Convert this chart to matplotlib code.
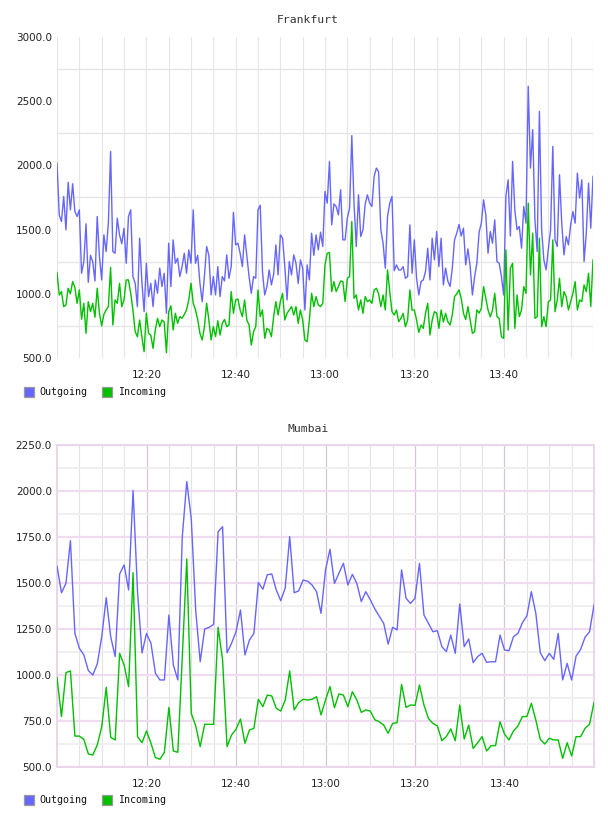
import matplotlib
matplotlib.use("Agg")
import matplotlib.pyplot as plt
import numpy as np
from matplotlib.patches import Rectangle
from matplotlib.ticker import MultipleLocator, FixedLocator

# minutes after 12:00
xtick_pos = [20, 40, 60, 80, 100]
xtick_labels = ["12:20", "12:40", "13:00", "13:20", "13:40"]
series_names = ["Outgoing", "Incoming"]

# Frankfurt, one sample every 30 s
fra_step = 0.5
fra_out = [
    2018, 1615, 1563, 1758, 1498, 1868, 1654, 1857, 1641, 1602,
    1654, 1160, 1250, 1545, 1090, 1300, 1250, 1100, 1602, 1290,
    1108, 1459, 1329, 1550, 2109, 1329, 1316, 1589, 1459, 1390,
    1511, 1238, 1602, 1654, 1134, 1082, 900, 1433, 1095, 861,
    1238, 978, 1082, 900, 1108, 1004, 1199, 1056, 1160, 848,
    1394, 1056, 1420, 1238, 1277, 1134, 1212, 1316, 1160, 1342,
    1238, 1654,
    1238, 1300, 1082, 939, 1134, 1368, 1300, 991, 1134, 991,
    1212, 978, 1134, 1100, 1303, 1120, 1212, 1634, 1381, 1394,
    1316, 1212, 1459, 1300, 1134, 1004, 1134, 1121, 1654, 1690,
    1173, 991, 1056, 1186, 1069, 1150, 1381, 1147, 1459, 1433,
    1212, 952, 1251, 1147, 1303, 1238, 1080, 1264, 1199, 874,
    1225, 1108, 1472, 1300, 1459, 1342, 1480, 1368, 1797, 1706,
    2031, 1537, 1700, 1680, 1615, 1810, 1420, 1420, 1589, 1667,
    2232, 1700, 1368, 1771, 1446, 1498, 1700, 1771, 1706, 1680,
    1914, 1979, 1950, 1500, 1394, 1199, 1602, 1706, 1758, 1180,
    1225, 1186, 1186, 1212, 1121, 1134, 1537, 1160, 1420, 1121,
    991, 1095, 1108, 1173, 1355, 1108, 1433, 1264, 1485, 1212,
    1433, 1069, 1200, 1100, 1056, 1200, 1420, 1472, 1540, 1450,
    1511, 1225, 1350, 1212, 991, 1134, 1238, 1480, 1550, 1732,
    1615, 1316, 1485, 1394, 1576, 1251, 1238, 1134, 991, 1758,
    1888, 1450, 2031, 1650, 1500, 1524, 1355, 1680, 1550, 2616,
    1979, 2278, 1576, 1329, 2421, 1498, 1264, 1186, 1350, 1498,
    2148, 1420, 1368, 1927, 1550, 1303, 1446, 1381, 1537, 1641,
    1550, 1940, 1745, 1888, 1251, 1472, 1862, 1511, 1914,
]
fra_in = [
    1166, 991, 1017, 900, 913, 1043, 1000, 1095, 1050, 926,
    1030, 802, 926, 692, 939, 861, 926, 817, 1043, 848,
    750, 840, 874, 900, 1205, 757, 952, 926, 1082, 900,
    952, 1108, 1108, 1004, 874, 705, 666, 796, 666, 549,
    850, 692, 679, 575, 718, 809, 744, 796, 780, 542,
    861, 906, 718, 848, 770, 822, 809, 840, 874, 952,
    1082, 926,
    874, 800, 692, 640, 740, 926, 796, 640, 744, 666,
    790, 679, 770, 800, 744, 757, 1017, 848, 952, 960,
    874, 822, 952, 796, 757, 601, 705, 744, 1030, 822,
    874, 653, 731, 718, 666, 822, 939, 835, 939, 1004,
    796, 848, 874, 900, 835, 900, 770, 874, 796, 640,
    627, 796, 1004, 900, 978, 913, 900, 926, 1225, 1316,
    1321, 1017, 1095, 1017, 1056, 1100, 1095, 939, 1121, 1134,
    1563, 965, 991, 874, 952, 848, 978, 939, 952, 926,
    1030, 1043, 1000, 900, 991, 874, 1186, 1017, 860, 835,
    874, 783, 809, 848, 744, 796, 1030, 874, 874, 796,
    700, 757, 731, 848, 926, 679, 796, 861, 850, 731,
    874, 780, 848, 783, 757, 835, 978, 1000, 1030, 965,
    848, 800, 900, 796, 692, 705, 874, 850, 887, 1056,
    965, 874, 820, 874, 1004, 822, 809, 666, 653, 1342,
    718, 1199, 1238, 731, 991, 822, 874, 1056, 1004, 1706,
    1147, 1472, 809, 822, 1433, 744, 822, 744, 939, 952,
    1420, 861, 952, 1121, 900, 1017, 978, 874, 939, 1004,
    1095, 874, 952, 939, 1069, 1017, 1160, 900, 1264,
]

# Mumbai, one sample per minute
mum_step = 1.0
mum_out = [
    1592, 1447, 1498, 1730, 1226, 1145, 1109, 1024, 1000, 1060,
    1208, 1420, 1208, 1100, 1549, 1598, 1462, 2002, 1450, 1120,
    1226, 1172, 1009, 973, 973, 1326, 1054, 973, 1752, 2051,
    1851, 1350, 1072, 1250, 1259, 1275, 1779, 1806, 1121, 1172,
    1235, 1353, 1109, 1190, 1226, 1502, 1466, 1545, 1549, 1462,
    1404, 1473, 1752, 1447, 1457, 1516, 1510, 1489, 1453, 1335,
    1571, 1683, 1498, 1553, 1607, 1489, 1547, 1498, 1399, 1453,
    1410, 1360, 1320, 1281, 1168, 1259, 1245, 1571, 1417, 1389,
    1417, 1607, 1326, 1281, 1235, 1241, 1154, 1127, 1217, 1118,
    1386, 1154, 1196, 1067, 1100, 1118, 1069, 1072, 1072, 1217,
    1136, 1132, 1208, 1226, 1284, 1321, 1453, 1335, 1121, 1078,
    1118, 1085, 1226, 973, 1063, 973, 1103, 1139, 1205, 1235,
    1380,
]
mum_in = [
    987, 774, 1013, 1022, 668, 668, 650, 571, 565, 620,
    719, 933, 661, 647, 1118, 1054, 937, 1556, 665, 632,
    696, 629, 551, 542, 580, 824, 587, 580, 1100, 1630,
    792, 723, 611, 732, 732, 732, 1259, 1082, 611, 674,
    705, 761, 629, 701, 710, 868, 828, 891, 886, 819,
    804, 864, 1022, 810, 850, 868, 864, 868, 882, 783,
    864, 937, 822, 897, 891, 828, 909, 864, 797, 810,
    804, 757, 746, 728, 683, 737, 741, 949, 824, 837,
    835, 946, 837, 764, 737, 723, 643, 665, 707, 643,
    837, 652, 728, 601, 632, 665, 587, 616, 616, 746,
    679, 647, 696, 723, 774, 774, 846, 755, 650, 625,
    656, 647, 647, 547, 632, 560, 665, 665, 710, 732,
    850,
]

OUT_COLOR = "#6666ff"
IN_COLOR = "#00c000"
W, H = 608, 816


def draw_lines(ax, step, out, inc):
    t_out = np.arange(len(out)) * step
    t_in = np.arange(len(inc)) * step
    ax.plot(t_out, out, color=OUT_COLOR, linewidth=1.0, zorder=3)
    ax.plot(t_in, inc, color=IN_COLOR, linewidth=1.0, zorder=4)
    ax.set_xlim(0, 120)
    ax.set_xticks(xtick_pos)
    ax.set_xticklabels(xtick_labels)
    ax.xaxis.set_minor_locator(MultipleLocator(5))
    ax.tick_params(which="both", length=0, labelsize=7.5, labelcolor="#222222")
    ax.tick_params(axis="x", pad=8.5)
    ax.tick_params(axis="y", pad=3.6)
    ax.set_axisbelow(True)


def draw_legend(fig, ytop):
    xs = [(24, 39), (102, 118)]
    for (bx, tx), name, col in zip(xs, series_names, [OUT_COLOR, IN_COLOR]):
        fig.patches.append(Rectangle((bx / W, 1 - (ytop + 10) / H), 10 / W, 10 / H,
                                     transform=fig.transFigure, facecolor=col,
                                     edgecolor="#999999", linewidth=0.9))
        fig.text(tx / W, 1 - (ytop + 5) / H, name, fontsize=7.2,
                 family="DejaVu Sans Mono", va="center", ha="left", color="#111111")


fig = plt.figure(figsize=(W / 100, H / 100), dpi=100)

# Frankfurt
ax1 = fig.add_axes([57 / W, 1 - 358 / H, 536 / W, 321 / H])
draw_lines(ax1, fra_step, fra_out, fra_in)
ax1.set_ylim(500, 3000)
fra_yticks = np.arange(500, 3001, 500)
ax1.set_yticks(fra_yticks)
ax1.set_yticklabels(["%.1f" % v for v in fra_yticks])
ax1.yaxis.set_minor_locator(FixedLocator(np.arange(750, 3000, 500)))
ax1.grid(which="minor", axis="y", color="#e6e6e6", linewidth=1.0)
ax1.grid(which="both", axis="x", color="#e6e6e6", linewidth=0.8)
for s in ax1.spines.values():
    s.set_visible(False)
fig.text(308 / W, 1 - 20 / H, "Frankfurt", fontsize=8.2, family="DejaVu Sans Mono",
         ha="center", va="center", color="#333333")
draw_legend(fig, 387)

# Mumbai
ax2 = fig.add_axes([57 / W, 1 - 767 / H, 537 / W, 322 / H])
draw_lines(ax2, mum_step, mum_out, mum_in)
ax2.set_ylim(500, 2250)
mum_yticks = np.arange(500, 2251, 250)
ax2.set_yticks(mum_yticks)
ax2.set_yticklabels(["%.1f" % v for v in mum_yticks])
ax2.yaxis.set_minor_locator(FixedLocator(np.arange(625, 2250, 250)))
ax2.grid(which="major", axis="y", color="#f0dcf0", linewidth=1.6)
ax2.grid(which="minor", axis="y", color="#efefef", linewidth=1.4)
ax2.grid(which="major", axis="x", color="#d8c4d8", linewidth=0.9)
ax2.grid(which="minor", axis="x", color="#e8e0e8", linewidth=0.8)
for s in ax2.spines.values():
    s.set_color("#ead6ea")
    s.set_linewidth(1.4)
fig.text(308 / W, 1 - 429 / H, "Mumbai", fontsize=8.2, family="DejaVu Sans Mono",
         ha="center", va="center", color="#333333")
draw_legend(fig, 795)

fig.savefig("out.png", dpi=100)
